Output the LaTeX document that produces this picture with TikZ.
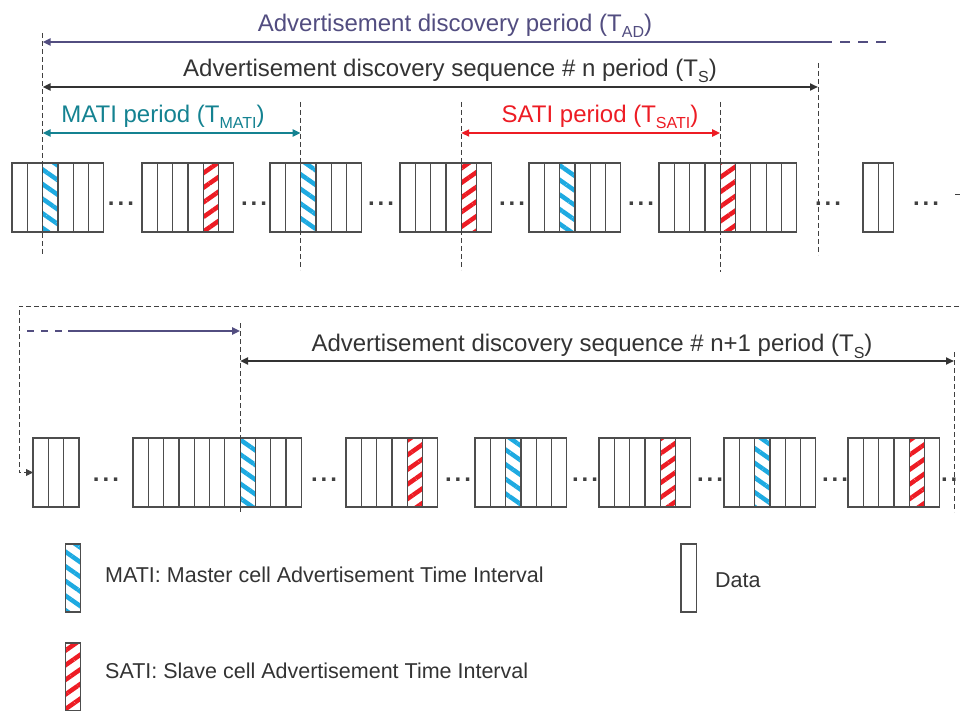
\documentclass[tikz,border=0pt]{standalone}
\usepackage{fontspec}
\setmainfont{Liberation Sans}
\usetikzlibrary{
    arrows.meta, % for the arrow tips
    patterns.meta % for the striped MATI and SATI slots
}

\definecolor{adpurple}{RGB}{82,77,128}
\definecolor{tsgray}{RGB}{51,51,51}
\definecolor{matiteal}{RGB}{20,130,145}
\definecolor{satired}{RGB}{237,28,36}
\definecolor{stripeblue}{RGB}{30,170,225}
\definecolor{framegray}{RGB}{77,77,77}

\newcommand{\lowtext}[1]{\raisebox{-6pt}{\fontsize{16}{16}\selectfont #1}}

\begin{document}
\begin{tikzpicture}[
        x=1pt,y=-1pt,>={Triangle[length=8pt,width=7pt]},
        font=\fontsize{24}{28}\selectfont,
        slot/.style      = {draw=framegray,line width=1.2pt,minimum width=15.3pt,minimum height=69pt,
                            inner sep=0pt,outer sep=0pt,anchor=north west},
        mati/.style      = {slot,pattern={Lines[angle=-35,distance=12pt,line width=4.5pt]},pattern color=stripeblue},
        sati/.style      = {slot,pattern={Lines[angle=35,distance=12pt,line width=4.5pt]},pattern color=satired},
        marker/.style    = {draw=black!75,line width=0.9pt,dash pattern=on 5pt off 3pt},
        period/.style    = {line width=2pt},
        gap/.style       = {font=\fontsize{24}{28}\selectfont\bfseries,text=black!75,inner sep=0pt,anchor=base},
        title/.style     = {inner sep=0pt,anchor=base},
        legend/.style    = {font=\fontsize{21.5}{24}\selectfont,text=black!80,inner sep=0pt,anchor=base west}
    ]
    \useasboundingbox (0,0) rectangle (961,711);
    \clip (0,0) rectangle (961,711);

    % advertisement discovery sequence # n

        \foreach \blk/\x/\n/\adv/\kind in {t1/12/6/3/mati,t2/142/6/5/sati,t3/270/6/3/mati,t4/400/6/5/sati,
                                          t5/529/6/3/mati,t6/659/9/5/sati,t7/863/2/0/slot}
            \foreach \i in {1,...,\n}{
                \ifnum\i=\adv \def\sty{\kind}\else\def\sty{slot}\fi
                \node [style/.expanded=\sty] (\blk-\i) at ({\x+(\i-1)*15.3},163) {};
            }
        \foreach \cx in {121,254,381,512,641,828,926}
            \node [gap] at (\cx,206) {.\hspace{3pt}.\hspace{3pt}.};

        \coordinate (tsend) at (818,63);
        \draw [marker] ([yshift=130pt]t1-3.north west) -- ([yshift=-23pt]t1-3.south west);
        \draw [marker] ([yshift=61pt]t3-3.north west)  -- ([yshift=-38pt]t3-3.south west);
        \draw [marker] ([yshift=61pt]t4-5.north west)  -- ([yshift=-38pt]t4-5.south west);
        \draw [marker] ([yshift=61pt]t6-5.north west)  -- ([yshift=-40pt]t6-5.south west);
        \draw [marker] (tsend) -- (tsend |- t7-1.south) -- ++(0,23);

        \coordinate (adL)   at (t1-3.north west |- 0,42);
        \coordinate (adR)   at (832,42);
        \coordinate (adend) at (887,42);
        \coordinate (tsL)   at (t1-3.north west |- 0,87);
        \coordinate (tsR)   at (tsend |- 0,87);
        \coordinate (matiL) at (t1-3.north west |- 0,133);
        \coordinate (matiR) at (t3-3.north west |- 0,133);
        \coordinate (satiL) at (t4-5.north west |- 0,133);
        \coordinate (satiR) at (t6-5.north west |- 0,133);

        \draw [period,adpurple,<-] (adL) -- (adR);
        \draw [period,adpurple,dash pattern=on 10pt off 8pt] ([xshift=8pt]adR) -- (adend);
        \draw [period,tsgray,<->] (tsL) -- (tsR);
        \draw [period,matiteal,<->] (matiL) -- (matiR);
        \draw [period,satired,<->] (satiL) -- (satiR);

        \node [title,adpurple] (adlabel)   at (455,32)  {Advertisement discovery period (T\lowtext{AD})};
        \node [title,tsgray]   (tslabel)   at (450,77)  {Advertisement discovery sequence \# n period (T\lowtext{S})};
        \node [title,matiteal] (matilabel) at (163,123) {MATI period (T\lowtext{MATI})};
        \node [title,satired]  (satilabel) at (600,123) {SATI period (T\lowtext{SATI})};

    % advertisement discovery sequence # n+1

        \foreach \blk/\x/\n/\adv/\kind in {b1/33/3/0/slot,b2/133/11/8/mati,b3/346/6/5/sati,b4/475/6/3/mati,
                                          b5/599/6/5/sati,b6/724/6/3/mati,b7/848/6/5/sati}
            \foreach \i in {1,...,\n}{
                \ifnum\i=\adv \def\sty{\kind}\else\def\sty{slot}\fi
                \node [style/.expanded=\sty] (\blk-\i) at ({\x+(\i-1)*15.3},438) {};
            }
        \foreach \cx in {106,324,458,585,710,835,954}
            \node [gap] at (\cx,481) {.\hspace{3pt}.\hspace{3pt}.};

        \coordinate (nextend) at (954,352);
        \draw [marker] ([yshift=115pt]b2-8.north west) -- ([yshift=-6pt]b2-8.south west);
        \draw [marker] (nextend) -- (nextend |- b7-1.south) -- ++(0,5);

        \coordinate (loopA) at (955,194);
        \coordinate (loopB) at (985,306);
        \draw [marker,->,>={Triangle[length=7pt,width=7pt]}] (loopA) -| (loopB) -- (19,306) |- (b1-1.west);

        \coordinate (adtail) at (27,331);
        \coordinate (adon)   at (68,331);
        \coordinate (adstop) at (b2-8.north west |- 0,331);
        \coordinate (nextL)  at (b2-8.north west |- 0,361);
        \coordinate (nextR)  at (nextend |- 0,361);

        \draw [period,adpurple,dash pattern=on 7pt off 7pt] (adtail) -- (adon);
        \draw [period,adpurple,->] (adon) -- (adstop);
        \draw [period,tsgray,<->] (nextL) -- (nextR);

        \node [title,tsgray] (nextlabel) at (592,352) {Advertisement discovery sequence \# n+1 period (T\lowtext{S})};

    % legend

        \node [mati,minimum height=68pt] (keymati) at (65.5,544) {};
        \node [sati,minimum height=68pt] (keysati) at (65.5,643) {};
        \node [slot,minimum height=68pt] (keydata) at (681,544) {};
        \node [legend] (keymatitext) at (105,582) {MATI: Master cell Advertisement Time Interval};
        \node [legend] (keysatitext) at (105,678) {SATI: Slave cell Advertisement Time Interval};
        \node [legend] (keydatatext) at (715,587) {Data};

\end{tikzpicture}
\end{document}
